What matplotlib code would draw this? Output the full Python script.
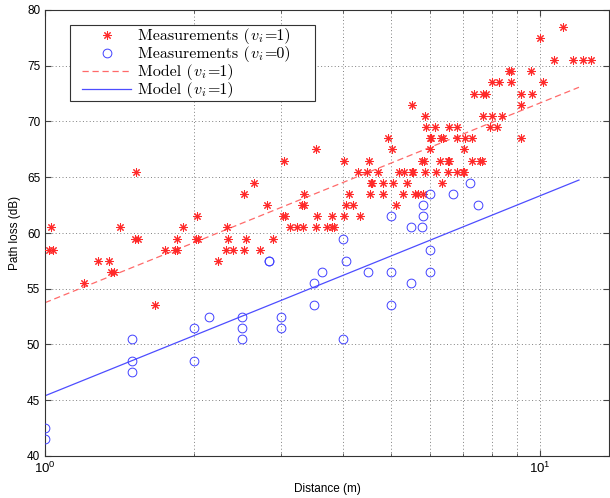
import matplotlib
matplotlib.use("Agg")
import matplotlib.pyplot as plt
from matplotlib.font_manager import FontProperties
from matplotlib.patches import Rectangle
from matplotlib.lines import Line2D
from matplotlib.ticker import FixedLocator, NullFormatter, FixedFormatter

plt.rcParams['font.family'] = ['Liberation Sans', 'DejaVu Sans']
plt.rcParams['mathtext.fontset'] = 'custom'
plt.rcParams['mathtext.rm'] = 'Liberation Sans'
plt.rcParams['mathtext.it'] = 'Liberation Sans:italic'

# Measurements, v_i = 1 (red stars)
red_x = [11.15,
         10.03,
         10.67, 11.68, 12.2, 12.7,
         8.67, 8.75, 9.6,
         8.01, 8.26, 8.74, 10.15,
         7.36, 7.68, 7.78, 9.15, 9.65,
         5.53, 9.17,
         5.87, 7.67, 8.02, 8.39,
         5.9, 6.15, 6.55, 6.81, 7.93, 8.18,
         4.94, 6.0, 6.04, 6.3, 6.36, 6.79, 7.05, 7.29, 9.15,
         3.53, 5.03, 5.99, 7.04,
         3.04, 4.02, 4.52, 5.78, 5.84, 6.28, 6.52, 6.56, 7.29, 7.58, 7.64,
         1.53, 4.3, 4.47, 4.7, 5.19, 5.31, 5.51, 5.55, 5.87, 6.18, 6.53, 6.79, 7.0, 7.04,
         2.64, 4.55, 4.58, 4.83, 5.04, 5.38, 6.33,
         2.53, 3.34, 4.12, 4.54, 4.81, 5.3, 5.59, 5.68, 5.8,
         2.81, 3.31, 3.34, 4.05, 4.2, 5.12,
         2.03, 3.03, 3.06, 3.54, 3.81, 4.02, 4.33,
         1.03, 1.42, 1.9, 2.33, 3.13, 3.23, 3.32, 3.53, 3.71, 3.81, 3.84,
         1.52, 1.54, 1.85, 2.02, 2.04, 2.34, 2.55, 2.89,
         1.02, 1.04, 1.75, 1.83, 1.85, 2.32, 2.4, 2.52, 2.72,
         1.28, 1.35, 2.24,
         1.36, 1.38,
         1.2,
         1.67]
red_y = [78.5,
         77.5,
         75.5, 75.5, 75.5, 75.5,
         74.5, 74.5, 74.5,
         73.5, 73.5, 73.5, 73.5,
         72.5, 72.5, 72.5, 72.5, 72.5,
         71.5, 71.5,
         70.5, 70.5, 70.5, 70.5,
         69.5, 69.5, 69.5, 69.5, 69.5, 69.5,
         68.5, 68.5, 68.5, 68.5, 68.5, 68.5, 68.5, 68.5, 68.5,
         67.5, 67.5, 67.5, 67.5,
         66.5, 66.5, 66.5, 66.5, 66.5, 66.5, 66.5, 66.5, 66.5, 66.5, 66.5,
         65.5, 65.5, 65.5, 65.5, 65.5, 65.5, 65.5, 65.5, 65.5, 65.5, 65.5, 65.5, 65.5, 65.5,
         64.5, 64.5, 64.5, 64.5, 64.5, 64.5, 64.5,
         63.5, 63.5, 63.5, 63.5, 63.5, 63.5, 63.5, 63.5, 63.5,
         62.5, 62.5, 62.5, 62.5, 62.5, 62.5,
         61.5, 61.5, 61.5, 61.5, 61.5, 61.5, 61.5,
         60.5, 60.5, 60.5, 60.5, 60.5, 60.5, 60.5, 60.5, 60.5, 60.5, 60.5,
         59.5, 59.5, 59.5, 59.5, 59.5, 59.5, 59.5, 59.5,
         58.5, 58.5, 58.5, 58.5, 58.5, 58.5, 58.5, 58.5, 58.5,
         57.5, 57.5, 57.5,
         56.5, 56.5,
         55.5,
         53.5]

# Measurements, v_i = 0 (blue circles)
blue_x = [1.0, 1.0, 1.5, 1.5, 1.5, 2.0, 2.0, 2.15, 2.5, 2.5, 2.5, 2.83, 2.83,
          3.0, 3.0, 3.5, 3.5, 3.63, 4.0, 4.05, 4.0, 4.5, 5.0, 5.0, 5.0,
          5.5, 5.5, 5.78, 5.8, 5.82, 6.0, 6.0, 6.0, 6.69, 7.22, 7.5]
blue_y = [42.5, 41.5, 50.5, 48.5, 47.5, 51.5, 48.5, 52.5, 52.5, 51.5, 50.5, 57.5, 57.5,
          52.5, 51.5, 55.5, 53.5, 56.5, 59.5, 57.5, 50.5, 56.5, 61.5, 56.5, 53.5,
          60.5, 55.5, 60.5, 62.5, 61.5, 63.5, 58.5, 56.5, 63.5, 64.5, 62.5]

# Model lines (end points)
model_x = [1.0, 12.0]
model_red = [53.75, 73.07]
model_blue = [45.4, 64.75]

# legend labels: prefix, italic variable, its subscript, suffix
legend_prefix = ['Measurements (', 'Measurements (', 'Model (', 'Model (']
legend_var = ['v', 'v', 'v', 'v']
legend_sub = ['i', 'i', 'i', 'i']
legend_suffix = ['=1)', '=0)', '=1)', '=1)']
y_ticks = [40, 45, 50, 55, 60, 65, 70, 75, 80]

# styles
star_style = dict(linestyle='none', marker=(8, 2, 0), markersize=6,
                  markeredgewidth=0.75, color='#ff2a2a')
circ_style = dict(linestyle='none', marker='o', markersize=6.3, markerfacecolor='none',
                  markeredgewidth=0.7, markeredgecolor='#4040ff')
red_line_style = dict(linestyle=(0, (5, 3)), color='#ff6a6a', linewidth=0.9)
blue_line_style = dict(linestyle='-', color='#4d4dff', linewidth=0.9)

fig = plt.figure(figsize=(6.10, 4.98), dpi=100)
AX_L, AX_B, AX_W, AX_H = 45, 42, 564, 446
ax = fig.add_axes([AX_L / 610, AX_B / 498, AX_W / 610, AX_H / 498])

ax.plot(red_x, red_y, zorder=3, **star_style)
ax.plot(blue_x, blue_y, zorder=3, **circ_style)
ax.plot(model_x, model_red, zorder=2, **red_line_style)
ax.plot(model_x, model_blue, zorder=2, **blue_line_style)

ax.set_xscale('log')
ax.set_xlim(1, 13.8)
ax.set_ylim(40, 80)
ax.set_yticks(y_ticks)
ax.xaxis.set_major_locator(FixedLocator([1, 10]))
ax.xaxis.set_major_formatter(FixedFormatter([r'$10^0$', r'$10^1$']))
ax.xaxis.set_minor_locator(FixedLocator([2, 3, 4, 5, 6, 7, 8, 9]))
ax.xaxis.set_minor_formatter(NullFormatter())

ax.grid(True, which='major', linestyle=(0, (1, 2.5)), color='#808080', linewidth=0.7)
ax.grid(True, which='minor', axis='x', linestyle=(0, (1, 2.5)), color='#808080', linewidth=0.7)

ax.tick_params(which='both', direction='in', top=True, right=True, labelsize=8.5,
               color='#444444')
ax.tick_params(axis='x', which='major', labelsize=9.5)
ax.tick_params(which='major', length=4)
ax.tick_params(which='minor', length=2.5)
for s in ax.spines.values():
    s.set_color('#333333')
    s.set_linewidth(0.8)

ax.set_xlabel('Distance (m)', fontsize=8.5, labelpad=5)
ax.set_ylabel('Path loss (dB)', fontsize=8.5, labelpad=4)


# ---- legend (built by hand so the Computer Modern text rows stay compact) ----
def fx(px):
    return (px - AX_L) / AX_W


def fy(py):  # py measured from the top of the figure
    return (498 - AX_B - py) / AX_H


box = Rectangle((fx(70), fy(100.7)), fx(315) - fx(70), fy(25) - fy(100.7),
                transform=ax.transAxes, facecolor='white', edgecolor='#333333',
                linewidth=0.8, zorder=4.5, clip_on=False)
ax.add_patch(box)

row_centers = [35.5, 53.5, 71.5, 89.5]
handle_x0, handle_x1, text_x = 82, 131, 138
ax.add_line(Line2D([fx((handle_x0 + handle_x1) / 2)], [fy(row_centers[0])],
                   transform=ax.transAxes, zorder=5, clip_on=False, **star_style))
ax.add_line(Line2D([fx((handle_x0 + handle_x1) / 2)], [fy(row_centers[1])],
                   transform=ax.transAxes, zorder=5, clip_on=False, **circ_style))
ax.add_line(Line2D([fx(handle_x0), fx(handle_x1)], [fy(row_centers[2])] * 2,
                   transform=ax.transAxes, zorder=5, clip_on=False, **red_line_style))
ax.add_line(Line2D([fx(handle_x0), fx(handle_x1)], [fy(row_centers[3])] * 2,
                   transform=ax.transAxes, zorder=5, clip_on=False, **blue_line_style))

renderer = fig.canvas.get_renderer()
f_rm = FontProperties(family=['cmr10', 'DejaVu Serif'], size=11.5)
f_it = FontProperties(family=['cmmi10', 'DejaVu Serif'], size=11.5)
f_sub = FontProperties(family=['cmmi10', 'DejaVu Serif'], size=8.2)
for center, pre, var, sub, suf in zip(row_centers, legend_prefix, legend_var,
                                      legend_sub, legend_suffix):
    x = text_x
    base = center + 4.2
    for s, fp, dy, gap in [(pre, f_rm, 0.0, 1.2), (var, f_it, 0.0, 0.4),
                           (sub, f_sub, 2.4, 1.6), (suf, f_rm, 0.0, 0.0)]:
        t = ax.text(fx(x), fy(base + dy), s, transform=ax.transAxes, fontproperties=fp,
                    ha='left', va='baseline', zorder=6)
        x += t.get_window_extent(renderer).width + gap

fig.savefig('out.png', dpi=100)
